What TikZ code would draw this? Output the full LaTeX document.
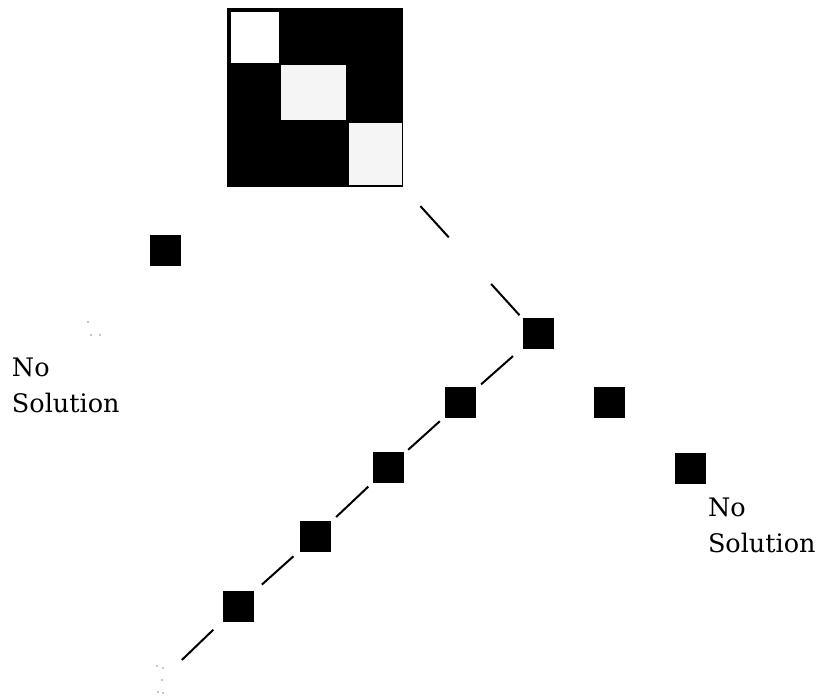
\documentclass[tikz,border=0pt]{standalone}
\usepackage{fontspec}
\newfontfamily\lblfont{DejaVu Serif}
\usetikzlibrary{calc}
\begin{document}
\begin{tikzpicture}[x=1pt,y=-1pt,
  sq/.style={fill=black,draw=none,minimum size=31pt,inner sep=0pt,outer sep=0pt},
  blk/.style={fill=black!4,draw=none},
  link/.style={line width=2pt,black},
  lbl/.style={inner sep=0pt,outer sep=0pt,font=\lblfont\fontsize{25.5}{36}\selectfont},
  speck/.style={fill=black!45,draw=none}]
\useasboundingbox (0,0) rectangle (820,700);
% block matrix
\node[fill=black,draw=none,minimum width=176pt,minimum height=179pt,inner sep=0pt] (mat) at (315,97.5) {};
\fill[white] (231,12) rectangle (279,63);
\fill[blk] (281,65) rectangle (346,120);
\fill[blk] (349,123) rectangle (402,185);
% squares
\node[sq] (top) at (538,334) {};
\node[sq] (a) at (460,403) {};
\node[sq] (b) at (388,468) {};
\node[sq] (c) at (315,537) {};
\node[sq] (d) at (238,606) {};
\node[sq] (left) at (165,251) {};
\node[sq] (e) at (609,403) {};
\node[sq] (f) at (690,469) {};
\coordinate (end) at (161,680);
% connectors
\draw[link] ($(mat.south east)!0.144!(top.north west)$) -- ($(mat.south east)!0.382!(top.north west)$);
\draw[link] ($(mat.south east)!0.737!(top.north west)$) -- ($(mat.south east)!0.975!(top.north west)$);
\draw[link] ($(top)!0.32!(a)$) -- ($(top)!0.73!(a)$);
\draw[link] ($(a)!0.28!(b)$) -- ($(a)!0.72!(b)$);
\draw[link] ($(b)!0.27!(c)$) -- ($(b)!0.71!(c)$);
\draw[link] ($(c)!0.28!(d)$) -- ($(c)!0.69!(d)$);
\draw[link] ($(d)!0.32!(end)$) -- ($(d)!0.73!(end)$);
% faint specks
\fill[speck] (157,666) circle (0.8) (163,668) circle (0.8) (162,680) circle (0.8) (158,692) circle (0.8) (163,693) circle (0.8);
\fill[speck] (88,322) circle (0.8) (91,335) circle (0.8) (100,335) circle (0.8);
% labels
\node[lbl,anchor=base west] (nsl1) at (12,377) {No};
\node[lbl,anchor=base west] (nsl2) at (12,413) {Solution};
\node[lbl,anchor=base west] (nsr1) at (708,517) {No};
\node[lbl,anchor=base west] (nsr2) at (708,553) {Solution};
\end{tikzpicture}
\end{document}
